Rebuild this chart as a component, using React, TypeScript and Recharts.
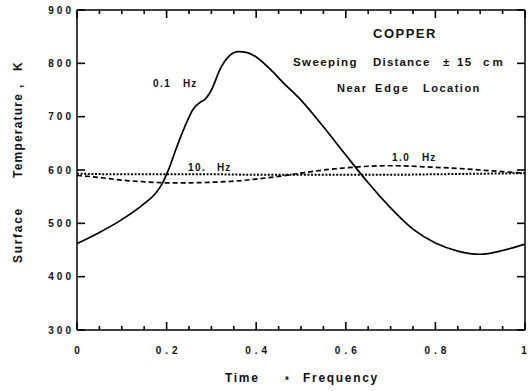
import React from 'react';
import { LineChart, Line, XAxis, YAxis } from 'recharts';

// ---- data ----
const time01Hz = [0, 0.05, 0.1, 0.15, 0.175, 0.19, 0.205, 0.22, 0.24, 0.26, 0.275, 0.285, 0.3, 0.32, 0.34, 0.36, 0.38, 0.4, 0.43, 0.46, 0.5, 0.55, 0.6, 0.65, 0.7, 0.75, 0.8, 0.85, 0.9, 0.95, 1];
const temp01Hz = [462, 483, 507, 537, 556, 574, 602, 637, 680, 715, 727, 732, 750, 790, 814, 822, 820, 812, 790, 764, 731, 681, 628, 576, 529, 489, 463, 448, 442, 449, 461];

const time1Hz = [0, 0.05, 0.1, 0.15, 0.2, 0.25, 0.3, 0.35, 0.4, 0.45, 0.5, 0.55, 0.6, 0.65, 0.7, 0.75, 0.8, 0.85, 0.9, 0.95, 1];
const temp1Hz = [590, 586, 581, 578, 576, 576, 577, 579, 583, 588, 594, 600, 604, 607, 608, 607, 605, 603, 600, 597, 594];

const time10Hz = [0, 0.1, 0.2, 0.3, 0.4, 0.5, 0.6, 0.7, 0.8, 0.9, 1];
const temp10Hz = [593, 592, 592, 592, 591, 591, 591, 591, 592, 593, 594];

const xMajorTicks = [0, 0.2, 0.4, 0.6, 0.8, 1];
const xTickLabels = ['0', '0.2', '0.4', '0.6', '0.8', '1'];
const xAllTicks = [0, 0.05, 0.1, 0.15, 0.2, 0.25, 0.3, 0.35, 0.4, 0.45, 0.5, 0.55, 0.6, 0.65, 0.7, 0.75, 0.8, 0.85, 0.9, 0.95, 1];
const yTicks = [300, 400, 500, 600, 700, 800, 900];

const data01 = time01Hz.map((t, i) => ({ t, v: temp01Hz[i] }));
const data1 = time1Hz.map((t, i) => ({ t, v: temp1Hz[i] }));
const data10 = time10Hz.map((t, i) => ({ t, v: temp10Hz[i] }));

const FONT = "'Liberation Sans', Arial, Helvetica, sans-serif";
const INK = '#111';
const MAJOR = 8;
const MINOR = 4;

const majorIndex = (v: number) => xMajorTicks.findIndex((m) => Math.abs(m - v) < 1e-9);

const txt = (x: number, y: number, s: string, size = 11, ls = 1.2, rotate = false) => (
  <text
    key={s + x + y}
    x={x}
    y={y}
    fontFamily={FONT}
    fontWeight="bold"
    fontSize={size}
    fill={INK}
    style={{ letterSpacing: ls }}
    transform={rotate ? `rotate(-90 ${x} ${y})` : undefined}
  >
    {s}
  </text>
);

// titles and in-plot annotations, drawn inside the chart's own SVG
const Annotations = () => (
  <g>
    {txt(373, 38, 'COPPER', 13, 1.5)}
    {txt(293, 66, 'Sweeping', 11.5, 1.4)}
    {txt(373, 66, 'Distance', 11.5, 1.2)}
    {txt(443, 66, '±', 11.5, 1)}
    {txt(457, 66, '15', 11.5, 1.4)}
    {txt(483, 66, 'cm', 11.5, 3)}
    {txt(337, 92, 'Near', 11, 1.5)}
    {txt(375, 92, 'Edge', 11, 2)}
    {txt(423, 92, 'Location', 11, 1.5)}
    {txt(153, 87, '0.1', 10, 1.5)}
    {txt(183, 87, 'Hz', 10, 1)}
    {txt(188, 171, '10.', 10, 1.5)}
    {txt(217, 171, 'Hz', 10, 1)}
    {txt(392, 161, '1.0', 10, 1.5)}
    {txt(422, 161, 'Hz', 10, 1)}
    {txt(225, 382, 'Time', 12, 1.7)}
    {txt(285, 384, '*', 10, 0)}
    {txt(303, 382, 'Frequency', 12, 1.7)}
    {txt(22, 263, 'Surface', 12, 1.7, true)}
    {txt(22, 178, 'Temperature', 12, 1.2, true)}
    {txt(22, 88, ',', 12, 0, true)}
    {txt(22, 71, 'K', 12, 0, true)}
  </g>
);

const BottomTick = (props: any) => {
  const x = Number(props.x);
  const y = Number(props.y);
  const idx = majorIndex(props.payload.value);
  const len = idx >= 0 ? MAJOR : MINOR;
  const ls = 4;
  const last = idx === xMajorTicks.length - 1;
  return (
    <g>
      <line x1={x} x2={x} y1={y} y2={y - len} stroke="#000" strokeWidth={1.6} />
      {idx >= 0 && (
        <text x={last ? x - 1 : x + ls / 2} y={y + 24} textAnchor="middle" fontFamily={FONT} fontWeight="bold" fontSize={10} fill={INK} style={{ letterSpacing: last ? 0 : ls }}>
          {xTickLabels[idx]}
        </text>
      )}
    </g>
  );
};

const TopTick = (props: any) => {
  const x = Number(props.x);
  const y = Number(props.y);
  const len = majorIndex(props.payload.value) >= 0 ? MAJOR : MINOR;
  return <line x1={x} x2={x} y1={y} y2={y + len} stroke="#000" strokeWidth={1.6} />;
};

const LeftTick = (props: any) => {
  const x = Number(props.x);
  const y = Number(props.y);
  const ls = 3;
  return (
    <g>
      <line x1={x} x2={x + MAJOR} y1={y} y2={y} stroke="#000" strokeWidth={1.6} />
      <text x={x - 6 + ls} y={y + 3.6} textAnchor="end" fontFamily={FONT} fontWeight="bold" fontSize={10} fill={INK} style={{ letterSpacing: ls }}>
        {String(props.payload.value)}
      </text>
      {props.payload.value === yTicks[0] && <Annotations />}
    </g>
  );
};

const RightTick = (props: any) => {
  const x = Number(props.x);
  const y = Number(props.y);
  return <line x1={x} x2={x - MAJOR} y1={y} y2={y} stroke="#000" strokeWidth={1.6} />;
};

export default function App() {
  return (
    <div style={{ position: 'absolute', left: 0, top: 0, width: 528, height: 391, background: '#fff' }}>
      <LineChart width={528} height={391} margin={{ top: 9, right: 2, left: 0, bottom: 0 }}>
        <XAxis
          xAxisId={0}
          dataKey="t"
          type="number"
          domain={[0, 1]}
          ticks={xAllTicks}
          interval={0}
          orientation="bottom"
          height={61}
          stroke="#000"
          strokeWidth={1.5}
          tickLine={false}
          tickSize={0}
          tickMargin={0}
          tick={(p: any) => <BottomTick {...p} />}
        />
        <XAxis
          xAxisId="top"
          dataKey="t"
          type="number"
          domain={[0, 1]}
          ticks={xAllTicks}
          interval={0}
          orientation="top"
          height={1}
          stroke="#000"
          strokeWidth={1.6}
          tickLine={false}
          tickSize={0}
          tickMargin={0}
          tick={(p: any) => <TopTick {...p} />}
        />
        <YAxis
          yAxisId={0}
          type="number"
          domain={[300, 900]}
          ticks={yTicks}
          interval={0}
          orientation="left"
          width={77}
          stroke="#000"
          strokeWidth={1.5}
          tickLine={false}
          tickSize={0}
          tickMargin={0}
          tick={(p: any) => <LeftTick {...p} />}
        />
        <YAxis
          yAxisId="right"
          type="number"
          domain={[300, 900]}
          ticks={yTicks}
          interval={0}
          orientation="right"
          width={1}
          stroke="#000"
          strokeWidth={1.5}
          tickLine={false}
          tickSize={0}
          tickMargin={0}
          tick={(p: any) => <RightTick {...p} />}
        />
        <Line xAxisId="top" yAxisId="right" data={data10} dataKey="v" type="monotone" stroke="#000" strokeWidth={2} strokeDasharray="2 1.6" dot={false} isAnimationActive={false} />
        <Line xAxisId="top" yAxisId="right" data={data1} dataKey="v" type="monotone" stroke="#000" strokeWidth={1.7} strokeDasharray="5 3" dot={false} isAnimationActive={false} />
        <Line data={data01} dataKey="v" type="monotone" stroke="#000" strokeWidth={1.7} dot={false} isAnimationActive={false} />
      </LineChart>
    </div>
  );
}
